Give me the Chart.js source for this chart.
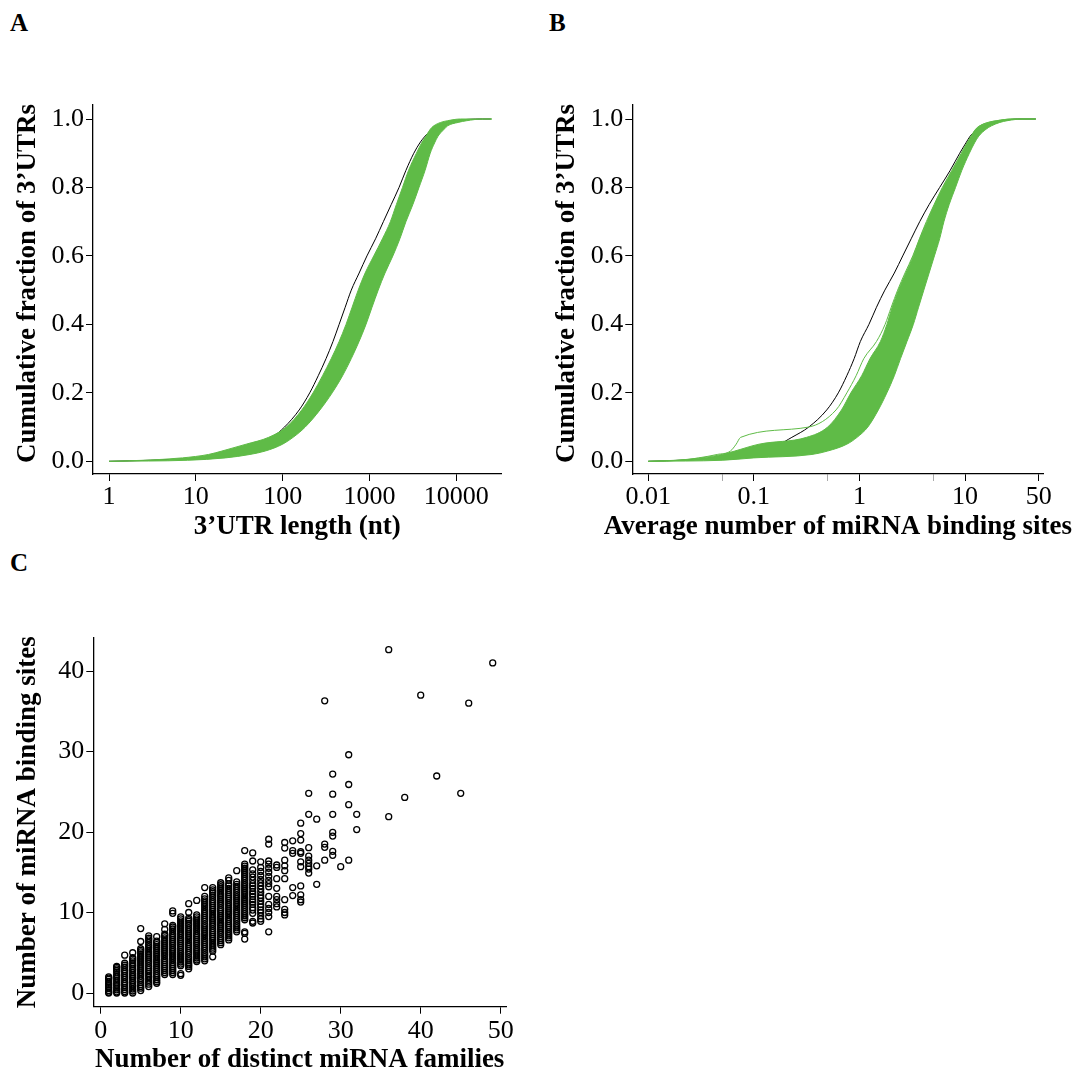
<!DOCTYPE html>
<html>
<head>
<meta charset="utf-8">
<script src="https://cdn.jsdelivr.net/npm/chart.js@4.4.1/dist/chart.umd.min.js"></script>
<style>
  html, body { margin: 0; padding: 0; background: #fff; }
  body { width: 1074px; height: 1075px; position: relative; overflow: hidden; }
  canvas { position: absolute; }
  .tag { position: absolute; font: bold 25px/25px 'Liberation Serif', serif; color: #000; }
</style>
</head>
<body>
<div class="tag" style="left:10px;top:10px">A</div>
<div class="tag" style="left:549px;top:10px">B</div>
<div class="tag" style="left:10px;top:550px">C</div>
<canvas id="panelA" width="537" height="480" style="left:0;top:80px"></canvas>
<canvas id="panelB" width="537" height="480" style="left:537px;top:80px"></canvas>
<canvas id="panelC" width="537" height="475" style="left:0;top:600px"></canvas>
<script>
// cumulative fraction at which each curve below is read
const cdfLevels = [0, 0.003, 0.01, 0.02, 0.03, 0.05, 0.07, 0.1, 0.15, 0.2, 0.25, 0.3, 0.35, 0.4, 0.45, 0.5,
  0.55, 0.6, 0.65, 0.7, 0.75, 0.8, 0.85, 0.9, 0.93, 0.95, 0.97, 0.98, 0.99, 0.995, 1, 1];

// panel A: 3'UTR length (nt)
const refLengthA = [1, 3, 11, 26, 40, 58, 76, 105, 155, 205, 257, 316, 380, 447, 525, 617,
  760, 935, 1175, 1445, 1780, 2190, 2630, 3240, 3800, 4370, 5250, 6030, 7590, 9330, 20000, 25000];
const sampleShortA = [1, 2.5, 7, 14, 20, 38, 69, 110, 166, 224, 288, 363, 447, 537, 631, 741,
  891, 1120, 1410, 1740, 2040, 2400, 2820, 3470, 3980, 4470, 5010, 5500, 6600, 7940, 11200, 25700];
const sampleLongA = [1, 8, 22, 42, 63, 100, 132, 182, 269, 372, 490, 617, 759, 912, 1070, 1260,
  1510, 1860, 2240, 2630, 3160, 3720, 4370, 5010, 5620, 6170, 7240, 7940, 10500, 13200, 20000, 25700];
const lengthTicks = [1, 10, 100, 1000, 10000];

// panel B: average number of miRNA binding sites
const refSitesB = [0.01, 0.02, 0.045, 0.076, 0.105, 0.174, 0.229, 0.331, 0.49, 0.631, 0.759, 0.891,
  1.02, 1.23, 1.45, 1.74, 2.14, 2.57, 3.09, 3.72, 4.57, 5.75, 7.24, 8.91, 10.2, 11.2, 13.2, 14.8, 17.8, 22.4, 31.6, 46.8];
const sampleLowB = [0.01, 0.018, 0.032, 0.05, 0.066, 0.112, 0.316, 0.5, 0.676, 0.83, 1.05, 1.26,
  1.58, 1.82, 2.04, 2.34, 2.75, 3.24, 3.72, 4.37, 5.13, 6.17, 7.59, 9.33, 10.5, 11.5, 12.6, 13.8, 16.6, 20.0, 28.0, 46.8];
const sampleHighB = [0.01, 0.05, 0.1, 0.355, 0.5, 0.76, 0.95, 1.2, 1.51, 1.82, 2.14, 2.45,
  2.82, 3.24, 3.63, 4.07, 4.57, 5.13, 5.75, 6.31, 7.08, 8.13, 9.33, 11.0, 12.3, 13.5, 15.8, 17.8, 21.4, 25.1, 35.5, 46.8];
const sampleStrayB = [0.01, 0.02, 0.03, 0.045, 0.06, 0.068, 0.075, 0.33, 0.6, 0.76, 0.93, 1.1,
  1.45, 1.75, 2.0, 2.3, 2.7, 3.2, 3.7, 4.3, 5.1, 6.1, 7.5, 9.2, 10.4, 11.4, 12.6, 13.8, 16.6, 20.0, 28.0, 46.8];
const siteTicks = [0.01, 0.05, 0.1, 0.5, 1, 5, 10, 50];
const siteLabels = ['0.01', '', '0.1', '', '1', '', '10', '50'];

const fractionTicks = [0, 0.2, 0.4, 0.6, 0.8, 1.0];

// panel C: distinct miRNA families vs binding sites per 3'UTR
const familyCounts = [1, 2, 3, 4, 5, 6, 7, 8, 9, 10, 11, 12, 13, 14, 15, 16, 17, 18, 19, 20,
  21, 22, 23, 24, 25, 26, 27, 28, 29, 30, 31, 32, 36, 38, 40, 42, 45, 46, 49];
const siteColumns = [
  [0, 0.1, 0.3, 0.55, 0.75, 1.0, 1.2, 1.45, 1.7, 1.85, 2.0],
  [0, 0.15, 0.4, 0.6, 0.9, 1.1, 1.35, 1.6, 1.85, 2.1, 2.3, 2.6, 2.8, 3.0, 3.2, 3.3],
  [0, 0.2, 0.45, 0.7, 0.95, 1.2, 1.4, 1.7, 1.95, 2.2, 2.45, 2.7, 2.9, 3.2, 3.45, 3.7, 4.7],
  [0, 0.25, 0.5, 0.8, 1.0, 1.3, 1.5, 1.8, 2.0, 2.25, 2.5, 2.8, 3.0, 3.3, 3.5, 3.75, 4.0, 4.2, 4.4, 5.0],
  [0.3, 0.6, 0.8, 1.05, 1.3, 1.6, 1.8, 2.1, 2.35, 2.6, 2.85, 3.1, 3.35, 3.6, 3.85, 4.1, 4.35, 4.6, 4.85,
    5.1, 5.3, 5.5, 6.4, 8.0],
  [0.8, 1.1, 1.35, 1.6, 1.9, 2.1, 2.4, 2.65, 2.9, 3.15, 3.4, 3.7, 3.95, 4.2, 4.45, 4.7, 4.95, 5.2, 5.5,
    5.75, 6.0, 6.3, 6.6, 6.8, 7.1],
  [1.2, 1.4, 1.65, 1.9, 2.15, 2.4, 2.7, 2.95, 3.2, 3.45, 3.7, 3.95, 4.2, 4.5, 4.75, 5.0, 5.25, 5.5, 5.75,
    6.0, 6.25, 6.45, 7.0],
  [2.3, 2.55, 2.8, 3.05, 3.3, 3.55, 3.8, 4.05, 4.3, 4.6, 4.85, 5.1, 5.35, 5.6, 5.85, 6.1, 6.35, 6.6, 6.85,
    7.1, 7.3, 7.9, 8.6],
  [2.3, 2.55, 2.8, 3.05, 3.3, 3.55, 3.8, 4.1, 4.35, 4.6, 4.85, 5.1, 5.35, 5.6, 5.9, 6.15, 6.4, 6.65, 6.9,
    7.15, 7.4, 7.7, 7.95, 8.2, 8.4, 9.9, 10.2],
  [2.2, 2.4, 3.4, 3.6, 3.85, 4.1, 4.35, 4.6, 4.85, 5.1, 5.4, 5.65, 5.9, 6.15, 6.4, 6.65, 6.9, 7.2, 7.45,
    7.7, 7.95, 8.2, 8.45, 8.7, 8.95, 9.2, 9.45],
  [3.0, 3.3, 3.5, 3.75, 4.0, 4.25, 4.5, 4.8, 5.05, 5.3, 5.55, 5.8, 6.05, 6.3, 6.6, 6.85, 7.1, 7.35, 7.6,
    7.85, 8.1, 8.4, 8.65, 8.9, 9.1, 9.3, 10.0, 11.1],
  [3.9, 4.1, 4.35, 4.6, 4.85, 5.1, 5.35, 5.6, 5.9, 6.15, 6.4, 6.65, 6.9, 7.15, 7.4, 7.7, 7.95, 8.2, 8.45,
    8.7, 8.95, 9.2, 9.45, 9.7, 11.5],
  [4.0, 4.25, 4.5, 4.75, 5.0, 5.3, 5.55, 5.8, 6.05, 6.3, 6.55, 6.8, 7.1, 7.35, 7.6, 7.85, 8.1, 8.35, 8.6,
    8.9, 9.15, 9.4, 9.65, 9.9, 10.15, 10.4, 10.7, 10.95, 11.2, 11.45, 11.7, 12.0, 13.1],
  [4.5, 5.2, 5.45, 5.7, 5.95, 6.2, 6.5, 6.75, 7.0, 7.25, 7.5, 7.75, 8.0, 8.3, 8.55, 8.8, 9.05, 9.3, 9.55,
    9.8, 10.1, 10.35, 10.6, 10.85, 11.1, 11.35, 11.6, 11.9, 12.15, 12.4, 12.6, 12.8, 13.1],
  [6.0, 6.25, 6.5, 6.75, 7.0, 7.3, 7.55, 7.8, 8.05, 8.3, 8.55, 8.8, 9.1, 9.35, 9.6, 9.85, 10.1, 10.35, 10.6,
    10.9, 11.15, 11.4, 11.65, 11.9, 12.15, 12.4, 12.7, 12.95, 13.2, 13.45, 13.7],
  [6.6, 6.85, 7.1, 7.35, 7.6, 7.9, 8.15, 8.4, 8.65, 8.9, 9.15, 9.4, 9.7, 9.95, 10.2, 10.45, 10.7, 10.95,
    11.2, 11.5, 11.75, 12.0, 12.25, 12.5, 12.75, 13.0, 13.3, 13.55, 14.0, 14.3],
  [7.6, 7.85, 8.1, 8.35, 8.6, 8.9, 9.15, 9.4, 9.65, 9.9, 10.15, 10.4, 10.7, 10.95, 11.2, 11.45, 11.7,
    11.95, 12.2, 12.5, 12.75, 13.0, 13.25, 13.5, 13.8, 15.2],
  [6.7, 7.4, 7.6, 9.1, 9.35, 9.6, 9.85, 10.1, 10.4, 10.65, 10.9, 11.15, 11.4, 11.65, 11.9, 12.2, 12.45,
    12.7, 12.95, 13.2, 13.45, 13.7, 14.0, 14.25, 14.5, 14.75, 15.0, 15.25, 15.5, 15.75, 16.0, 17.7],
  [8.7, 8.9, 9.9, 10.3, 10.6, 11.0, 11.3, 11.6, 12.0, 12.3, 12.6, 13.0, 13.3, 13.6, 14.0, 14.4, 14.8,
    15.3, 16.4, 17.4],
  [8.9, 9.2, 9.6, 10.0, 10.3, 10.7, 11.0, 11.4, 11.8, 12.1, 12.5, 12.9, 13.3, 13.7, 14.1, 14.6, 15.1,
    15.6, 16.3],
  [7.6, 9.5, 10.0, 10.5, 11.0, 12.0, 13.2, 13.6, 14.0, 14.5, 15.0, 15.5, 16.0, 16.4, 18.5, 19.1],
  [10.7, 11.1, 11.6, 12.0, 13.0, 14.2, 15.6, 15.9],
  [9.7, 10.0, 10.4, 11.6, 14.2, 15.2, 15.8, 16.5, 18.0, 18.7],
  [12.1, 13.1, 17.35, 17.7, 18.9],
  [11.3, 11.6, 12.2, 13.3, 15.7, 16.3, 17.35, 17.55, 19.0, 19.8, 21.1],
  [14.9, 15.4, 15.7, 16.1, 16.5, 17.0, 18.05, 22.2, 24.8],
  [13.5, 15.8, 21.6],
  [16.5, 18.1, 18.5, 36.3],
  [17.1, 17.6, 19.5, 19.96, 22.2, 24.7, 27.2],
  [15.7],
  [16.5, 23.4, 25.9, 29.6],
  [20.3, 22.2],
  [21.9, 42.65],
  [24.3],
  [37.0],
  [26.96],
  [24.8],
  [36.0],
  [41.0]
];
const familyTicks = [0, 10, 20, 30, 40, 50];
const bindingTicks = [0, 10, 20, 30, 40];

const GREEN = '#5fbb47';
const tickFont = { family: 'Liberation Serif', size: 26, lineHeight: 1.2 };

// axis titles drawn by hand so long titles are not squeezed to the axis width
const axisTitles = {
  id: 'axisTitles',
  afterDraw(chart, args, opts) {
    const { ctx, chartArea: a } = chart;
    ctx.save();
    ctx.fillStyle = '#000';
    ctx.font = 'bold 27px "Liberation Serif"';
    ctx.textAlign = 'center';
    ctx.textBaseline = 'middle';
    ctx.fillText(opts.x, (a.left + a.right) / 2, a.bottom + 53);
    ctx.translate(a.left - 65, (a.top + a.bottom) / 2 + (opts.yShift || 0));
    ctx.rotate(-Math.PI / 2);
    ctx.fillText(opts.y, 0, 0);
    ctx.restore();
  }
};

function axis(extra) {
  return Object.assign({
    grid: { drawOnChartArea: false, drawTicks: true, tickLength: 7, tickColor: '#000', tickWidth: 1 },
    border: { display: true, color: '#000', width: 1.3 }
  }, extra);
}

function curve(values, color, width, fill) {
  return {
    data: values.map((v, i) => ({ x: v, y: cdfLevels[i] })),
    borderColor: color,
    borderWidth: width,
    backgroundColor: GREEN,
    fill: fill || false,
    pointRadius: 0,
    cubicInterpolationMode: 'monotone'
  };
}

function cdfChart(id, datasets, xRange, ticksX, labelsX, minorColor, yAxisWidth, titleX) {
  return new Chart(document.getElementById(id), {
    type: 'line',
    data: { datasets: datasets },
    options: {
      responsive: false,
      animation: false,
      events: [],
      layout: { padding: { left: 0, top: 25, right: 537 - yAxisWidth - xRange.width, bottom: 0 } },
      plugins: {
        legend: { display: false },
        tooltip: { enabled: false },
        axisTitles: { x: titleX, y: 'Cumulative fraction of 3\u2019UTRs', yShift: -6 }
      },
      scales: {
        x: axis({
          type: 'logarithmic',
          min: xRange.min,
          max: xRange.max,
          afterBuildTicks: s => { s.ticks = ticksX.map(v => ({ value: v })); },
          afterFit: s => { s.height = 86; },
          ticks: {
            font: tickFont, color: '#000', padding: 1, maxRotation: 0, autoSkip: false,
            callback: (v, i) => labelsX[i]
          },
          grid: {
            drawOnChartArea: false, drawTicks: true, tickLength: 7, tickWidth: 1,
            tickColor: c => (labelsX[c.index] === '' ? minorColor : '#000')
          }
        }),
        y: axis({
          type: 'linear',
          min: -0.0371,
          max: 1.0409,
          afterBuildTicks: s => { s.ticks = fractionTicks.map(v => ({ value: v })); },
          afterFit: s => { s.width = yAxisWidth; },
          ticks: { font: tickFont, color: '#000', padding: 2, callback: v => v.toFixed(1) }
        })
      }
    },
    plugins: [axisTitles]
  });
}

cdfChart('panelA', [
  curve(sampleShortA, GREEN, 1, '+1'),
  curve(sampleLongA, GREEN, 1),
  curve(refLengthA, '#000', 1)
], { min: 0.654, max: 33340, width: 408.7 }, lengthTicks, lengthTicks.map(String), '#000', 93,
  '3\u2019UTR length (nt)');

cdfChart('panelB', [
  curve(sampleLowB, GREEN, 1, '+1'),
  curve(sampleHighB, GREEN, 1),
  curve(sampleStrayB, GREEN, 1),
  curve(refSitesB, '#000', 1)
], { min: 0.007057, max: 55.14, width: 411 }, siteTicks, siteLabels, '#aaa', 95.3,
  'Average number of miRNA binding sites');

const scatterPoints = [];
familyCounts.forEach((f, i) => {
  siteColumns[i].forEach(s => scatterPoints.push({ x: f, y: s }));
});

new Chart(document.getElementById('panelC'), {
  type: 'scatter',
  data: {
    datasets: [{
      data: scatterPoints,
      pointStyle: 'circle',
      pointRadius: 3.0,
      borderWidth: 1.3,
      borderColor: '#000',
      backgroundColor: 'rgba(0,0,0,0)'
    }]
  },
  options: {
    responsive: false,
    animation: false,
    events: [],
    layout: { padding: { left: 0, top: 38, right: 31, bottom: 0 } },
    plugins: {
      legend: { display: false },
      tooltip: { enabled: false },
      axisTitles: { x: 'Number of distinct miRNA families', y: 'Number of miRNA binding sites' }
    },
    scales: {
      x: axis({
        type: 'linear',
        min: -0.925,
        max: 50.66,
        afterBuildTicks: s => { s.ticks = familyTicks.map(v => ({ value: v })); },
        afterFit: s => { s.height = 68.3; },
        ticks: { font: tickFont, color: '#000', padding: 2, maxRotation: 0, autoSkip: false, callback: v => String(v) }
      }),
      y: axis({
        type: 'linear',
        min: -1.70,
        max: 44.1,
        afterBuildTicks: s => { s.ticks = bindingTicks.map(v => ({ value: v })); },
        afterFit: s => { s.width = 93.3; },
        ticks: { font: tickFont, color: '#000', padding: 2, callback: v => String(v) }
      })
    }
  },
  plugins: [axisTitles]
});
</script>
</body>
</html>
